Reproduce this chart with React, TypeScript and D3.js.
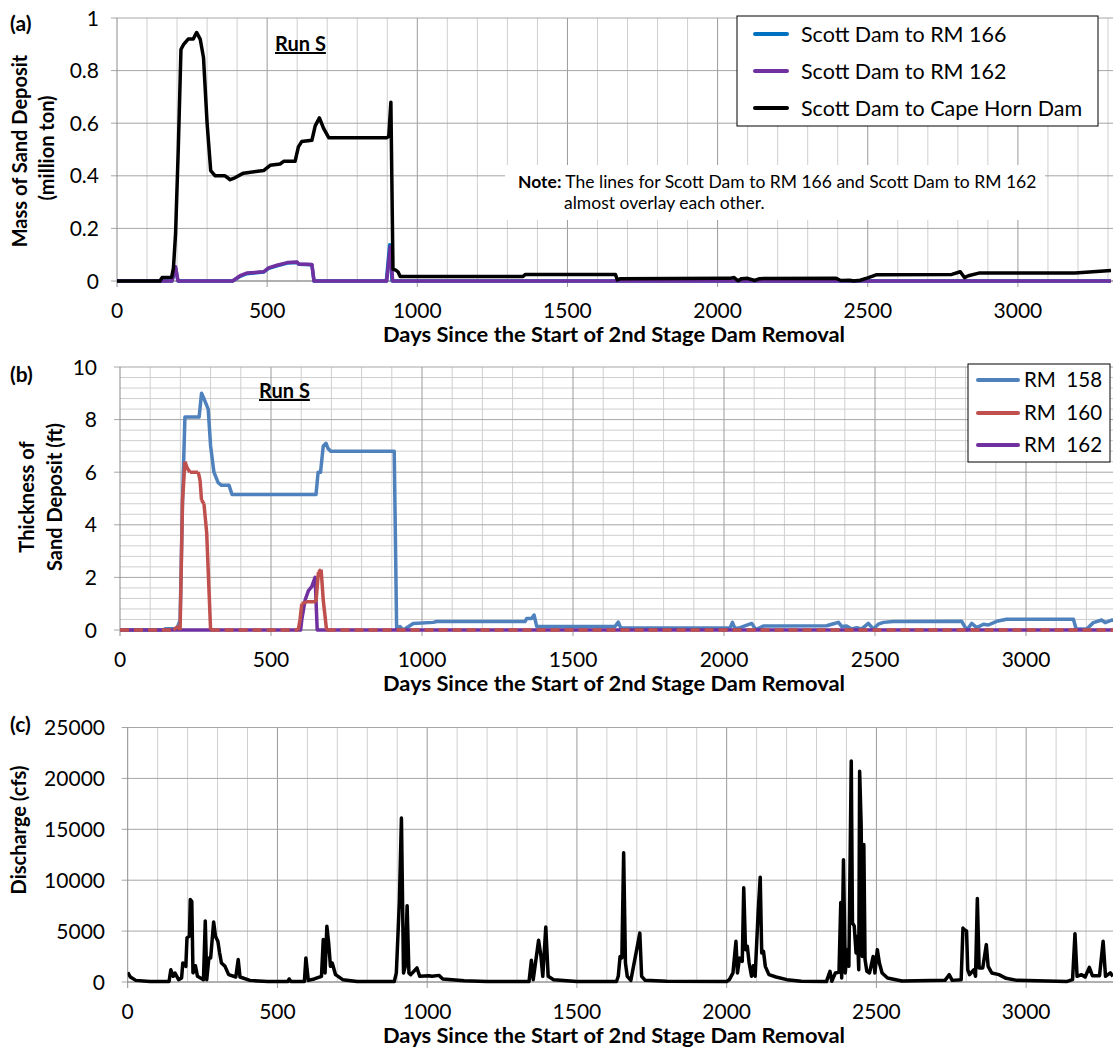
import React from 'react';
import * as d3 from 'd3';

type Pt = [number, number];

// ---- data ----
const dayTicks = [0, 500, 1000, 1500, 2000, 2500, 3000];
const massTicks = [0, 0.2, 0.4, 0.6, 0.8, 1];
const thickTicks = [0, 2, 4, 6, 8, 10];
const flowTicks = [0, 5000, 10000, 15000, 20000, 25000];

// (a) mass of sand deposit, million ton
const massRM166: Pt[] = [
  [0, 0], [183, 0], [195, 0.05], [203, 0], [385, 0], [410, 0.018], [432, 0.028], [488, 0.034],
  [505, 0.048], [533, 0.058], [567, 0.068], [600, 0.07], [605, 0.064], [649, 0.062], [656, 0],
  [897, 0], [908, 0.138], [916, 0], [3310, 0],
];
const massRM162: Pt[] = [
  [0, 0], [183, 0], [195, 0.054], [203, 0], [385, 0], [410, 0.02], [432, 0.03], [488, 0.035],
  [505, 0.05], [533, 0.06], [567, 0.07], [600, 0.072], [605, 0.065], [649, 0.063], [656, 0],
  [898, 0], [910, 0.13], [918, 0], [3310, 0],
];
const massCapeHorn: Pt[] = [
  [0, 0], [143, 0], [150, 0.013], [182, 0.014], [188, 0.05], [195, 0.18], [204, 0.5], [213, 0.88],
  [222, 0.9], [237, 0.92], [254, 0.92], [265, 0.945], [277, 0.92], [288, 0.85], [300, 0.6],
  [312, 0.42], [327, 0.4], [360, 0.4], [377, 0.385], [388, 0.39], [421, 0.41], [488, 0.42],
  [510, 0.44], [543, 0.445], [555, 0.455], [593, 0.455], [604, 0.51], [615, 0.53], [649, 0.535],
  [660, 0.59], [674, 0.62], [688, 0.58], [705, 0.545], [899, 0.545], [905, 0.55], [912, 0.68],
  [919, 0.045], [930, 0.04], [936, 0.034], [943, 0.017], [1352, 0.017], [1360, 0.025],
  [1660, 0.025], [1666, 0.004], [1677, 0.009], [2040, 0.01], [2055, 0.013], [2068, 0.001],
  [2080, 0.009], [2100, 0.01], [2124, 0.002], [2140, 0.009], [2395, 0.01], [2410, 0.002],
  [2440, 0.003], [2452, 0], [2475, 0.003], [2500, 0.012], [2530, 0.024], [2780, 0.025],
  [2808, 0.035], [2822, 0.013], [2835, 0.02], [2870, 0.03], [3190, 0.03], [3250, 0.035], [3310, 0.04],
];

// (b) thickness of sand deposit, ft
const thickRM158: Pt[] = [
  [0, 0], [143, 0], [150, 0.05], [185, 0.06], [190, 0.1], [199, 0.38], [207, 4.9], [215, 8.1],
  [262, 8.1], [270, 9.0], [278, 8.8], [292, 8.4], [300, 7.0], [311, 6.0], [325, 5.6], [336, 5.5],
  [361, 5.5], [371, 5.15], [649, 5.15], [656, 6.0], [664, 6.0], [673, 7.0], [682, 7.1], [689, 6.9],
  [697, 6.8], [908, 6.8], [916, 0.05], [927, 0.13], [938, 0], [971, 0.25], [1037, 0.29],
  [1049, 0.32], [1341, 0.32], [1347, 0.44], [1363, 0.44], [1371, 0.57], [1380, 0.13], [1639, 0.13],
  [1650, 0.3], [1658, 0.08], [2020, 0.08], [2028, 0.29], [2036, 0.06], [2053, 0.09], [2092, 0.25],
  [2103, 0.05], [2108, 0.03], [2130, 0.15], [2340, 0.16], [2357, 0.22], [2379, 0.29], [2390, 0.13],
  [2406, 0.15], [2423, 0.04], [2439, 0.09], [2456, 0.04], [2478, 0.25], [2494, 0.04], [2511, 0.22],
  [2528, 0.29], [2561, 0.32], [2787, 0.33], [2804, 0], [2820, 0.25], [2837, 0.09], [2859, 0.22],
  [2875, 0.19], [2903, 0.33], [2936, 0.41], [3157, 0.41], [3166, 0.04], [3201, 0.04], [3223, 0.28],
  [3251, 0.38], [3262, 0.28], [3284, 0.38], [3300, 0.36],
];
const thickRM160: Pt[] = [
  [0, 0], [177, 0], [193, 0.15], [199, 0], [207, 4.9], [215, 6.4], [223, 6.15], [232, 6.0],
  [259, 6.0], [265, 5.7], [270, 4.94], [278, 4.8], [287, 3.7], [300, 0], [590, 0], [596, 0.38],
  [602, 1.0], [618, 1.07], [649, 1.07], [657, 2.2], [666, 2.3], [673, 1.14], [684, 0], [3300, 0],
];
const thickRM162: Pt[] = [
  [0, 0], [598, 0], [602, 0.4], [613, 1.14], [624, 1.5], [635, 1.65], [646, 2.0], [653, 0], [3300, 0],
];

// (c) discharge, cfs
const discharge: Pt[] = [
  [0, 950], [9, 490], [27, 160], [74, 40], [138, 40], [144, 1200], [152, 560], [158, 880], [170, 230],
  [180, 400], [184, 1870], [194, 1540], [198, 4330], [206, 4500], [209, 8100], [214, 7900], [218, 900],
  [226, 1600], [233, 560], [253, 230], [259, 6000], [264, 230], [271, 2360], [277, 2360], [287, 5900],
  [293, 4500], [301, 4000], [307, 2850], [313, 1870], [325, 1540], [337, 720], [361, 490], [369, 2200],
  [375, 490], [408, 160], [468, 40], [535, 40], [539, 300], [545, 40], [590, 60], [595, 2360],
  [603, 160], [623, 300], [647, 560], [653, 4170], [659, 890], [665, 5480], [671, 3840], [677, 1540],
  [683, 1870], [694, 720], [718, 230], [766, 40], [890, 40], [897, 890], [907, 7800], [914, 16100],
  [921, 890], [927, 1540], [933, 7500], [939, 890], [945, 720], [966, 1380], [975, 560], [1005, 620],
  [1016, 560], [1040, 650], [1052, 300], [1124, 130], [1200, 60], [1340, 40], [1348, 2130],
  [1354, 230], [1372, 4100], [1380, 2500], [1386, 560], [1396, 5400], [1404, 560], [1422, 230],
  [1500, 60], [1632, 50], [1638, 560], [1644, 2500], [1650, 2360], [1656, 12700], [1662, 1870],
  [1668, 560], [1680, 160], [1710, 4800], [1716, 560], [1728, 160], [1800, 80], [2000, 50],
  [2009, 230], [2021, 890], [2031, 4000], [2036, 890], [2043, 2360], [2052, 2030], [2057, 9250],
  [2063, 3180], [2069, 3500], [2075, 1870], [2083, 560], [2089, 1600], [2095, 560], [2105, 6800],
  [2112, 10300], [2117, 2850], [2123, 3000], [2129, 1540], [2141, 720], [2165, 490], [2201, 230],
  [2249, 80], [2333, 40], [2345, 1050], [2351, 80], [2363, 890], [2375, 950], [2381, 7800],
  [2384, 400], [2390, 12000], [2396, 890], [2402, 3180], [2408, 1540], [2416, 21700], [2420, 5800],
  [2426, 5480], [2432, 2850], [2437, 4500], [2441, 1200], [2444, 20700], [2449, 15500], [2453, 2500],
  [2458, 13500], [2462, 2200], [2468, 1050], [2477, 890], [2489, 2500], [2495, 890], [2503, 3180],
  [2510, 1870], [2519, 890], [2537, 400], [2585, 100], [2729, 160], [2743, 720], [2753, 160],
  [2783, 230], [2789, 5300], [2795, 5100], [2801, 5000], [2805, 1200], [2811, 720], [2825, 1200],
  [2831, 560], [2837, 8200], [2843, 1380], [2855, 1380], [2867, 3670], [2873, 1540], [2885, 890],
  [2909, 720], [2933, 360], [2969, 160], [3137, 60], [3155, 230], [3163, 4750], [3170, 560],
  [3185, 720], [3197, 490], [3211, 1440], [3221, 620], [3245, 620], [3257, 4000], [3265, 560],
  [3281, 890], [3290, 560],
];

const FONT = "Lato, 'Open Sans', sans-serif";
const W = 1113;
const H = 1048;
const X_TITLE = 'Days Since the Start of 2nd Stage Dam Removal';

type Scale = d3.ScaleLinear<number, number>;

interface Series { data: Pt[]; color: string; width: number; zeroDash?: string }

function SeriesPath({ s, x, y }: { s: Series; x: Scale; y: Scale }) {
  const line = d3.line<Pt>().x(d => x(d[0])).y(d => y(d[1]));
  if (!s.zeroDash) {
    return <path d={line(s.data) ?? ''} fill="none" stroke={s.color} strokeWidth={s.width} strokeLinejoin="round" />;
  }
  // solid where the series is above zero, dashed along the zero line
  const pairs = d3.pairs(s.data);
  const zero = pairs.filter(([a, b]) => a[1] === 0 && b[1] === 0);
  const rest = pairs.filter(([a, b]) => !(a[1] === 0 && b[1] === 0));
  return (
    <g>
      <path d={zero.map(p => line(p)).join('')} fill="none" stroke={s.color} strokeWidth={s.width} strokeDasharray={s.zeroDash} />
      <path d={rest.map(p => line(p)).join('')} fill="none" stroke={s.color} strokeWidth={s.width} strokeLinejoin="round" />
    </g>
  );
}

function Panel({ id, x, y, yTicks, yMinor, yLabelRight, series, children }: {
  id: string; x: Scale; y: Scale; yTicks: number[]; yMinor?: number; yLabelRight: number;
  series: Series[]; children?: React.ReactNode;
}) {
  const x0 = x.range()[0];
  const [yb, yt] = y.range();
  const vLines = d3.range(100, 3400, 100);
  const [d0, d1] = y.domain();
  const hMinor = yMinor ? d3.range(d0 + yMinor, d1 + 1e-9, yMinor).filter(v => !yTicks.some(t => Math.abs(t - v) < 1e-6)) : [];
  return (
    <g>
      <defs>
        <clipPath id={id}>
          <rect x={x0} y={yt - 6} width={W - x0} height={yb - yt + 10} />
        </clipPath>
      </defs>
      {hMinor.map(v => (
        <line key={'hm' + v} x1={x0} x2={W} y1={y(v)} y2={y(v)} stroke="#cfcfcf" strokeWidth={1} />
      ))}
      {vLines.filter(v => v % 500 !== 0).map(v => (
        <line key={'vm' + v} x1={x(v)} x2={x(v)} y1={yt} y2={yb} stroke="#cfcfcf" strokeWidth={1} />
      ))}
      {vLines.filter(v => v % 500 === 0).map(v => (
        <line key={'vM' + v} x1={x(v)} x2={x(v)} y1={yt} y2={yb + 6} stroke="#9a9a9a" strokeWidth={1} />
      ))}
      {yTicks.map(t => (
        <line key={'hM' + t} x1={x0 - 6} x2={W} y1={y(t)} y2={y(t)} stroke="#a6a6a6" strokeWidth={1} />
      ))}
      <line x1={x0} x2={x0} y1={yt} y2={yb + 6} stroke="#8c8c8c" strokeWidth={1} />
      <line x1={x0} x2={W} y1={yb} y2={yb} stroke="#8c8c8c" strokeWidth={1} />
      {yTicks.map(t => (
        <text key={'yl' + t} x={yLabelRight} y={y(t)} dy="0.36em" textAnchor="end" fontSize={21} fontFamily={FONT} fill="#000">{t}</text>
      ))}
      {dayTicks.map(t => (
        <text key={'xl' + t} x={x(t)} y={yb + 37} textAnchor="middle" fontSize={21} fontFamily={FONT} fill="#000">{t}</text>
      ))}
      <text x={614} y={yb + 61} textAnchor="middle" fontSize={21} fontWeight="bold" fontFamily={FONT} fill="#000"
        textLength={462} lengthAdjust="spacingAndGlyphs">{X_TITLE}</text>
      <g clipPath={`url(#${id})`}>
        {series.map((s, i) => <SeriesPath key={i} s={s} x={x} y={y} />)}
      </g>
      {children}
    </g>
  );
}

function YTitle({ cx, cy, text }: { cx: number; cy: number; text: string }) {
  return (
    <text transform={`translate(${cx},${cy}) rotate(-90)`} dy="0.36em" textAnchor="middle" fontSize={20} fontWeight="bold" fontFamily={FONT} fill="#000">{text}</text>
  );
}

function Legend({ x, y, w, h, rows, rowY, lineX, textX, fontSize }: {
  x: number; y: number; w: number; h: number; rows: { label: string; color: string }[];
  rowY: number[]; lineX: [number, number]; textX: number; fontSize: number;
}) {
  return (
    <g>
      <rect x={x} y={y} width={w} height={h} fill="#fff" stroke="#000" strokeWidth={1} />
      {rows.map((r, i) => (
        <g key={r.label}>
          <line x1={lineX[0]} x2={lineX[1]} y1={rowY[i]} y2={rowY[i]} stroke={r.color} strokeWidth={4} strokeLinecap="round" />
          <text x={textX} y={rowY[i]} dy="0.36em" fontSize={fontSize} fontFamily={FONT} fill="#000" style={{ whiteSpace: 'pre' }}>{r.label}</text>
        </g>
      ))}
    </g>
  );
}

export default function App() {
  const xA = d3.scaleLinear().domain([0, 3300]).range([117, 1108]);
  const yA = d3.scaleLinear().domain([0, 1]).range([281, 18]);
  const xB = d3.scaleLinear().domain([0, 3300]).range([120, 1116.6]);
  const yB = d3.scaleLinear().domain([0, 10]).range([630, 367]);
  const xC = d3.scaleLinear().domain([0, 3300]).range([127.7, 1116]);
  const yC = d3.scaleLinear().domain([0, 25000]).range([982, 727.5]);

  return (
    <svg width={W} height={H} style={{ position: 'absolute', left: 0, top: 0, background: '#fff' }}>
      <rect width={W} height={H} fill="#fff" />

      {/* (a) */}
      <Panel id="clipA" x={xA} y={yA} yTicks={massTicks} yLabelRight={99}
        series={[
          { data: massRM166, color: '#0070C0', width: 3.5 },
          { data: massRM162, color: '#7030A0', width: 3.5 },
          { data: massCapeHorn, color: '#000000', width: 3.5 },
        ]}>
        <rect x={505} y={165} width={540} height={55} fill="#fff" />
        <text x={518} y={188} fontSize={17.5} fontFamily={FONT} fill="#000">
          <tspan fontWeight="bold">Note:</tspan> The lines for Scott Dam to RM 166 and Scott Dam to RM 162
        </text>
        <text x={564} y={209} fontSize={17.5} fontFamily={FONT} fill="#000">almost overlay each other.</text>
        <text x={275} y={51} fontSize={20} fontWeight="bold" fontFamily={FONT} textDecoration="underline" fill="#000">Run S</text>
        <Legend x={737} y={16} w={361} h={110} rowY={[34, 71, 108]} lineX={[755, 787]} textX={801} fontSize={21.5}
          rows={[
            { label: 'Scott Dam to RM 166', color: '#0070C0' },
            { label: 'Scott Dam to RM 162', color: '#7030A0' },
            { label: 'Scott Dam to Cape Horn Dam', color: '#000000' },
          ]} />
      </Panel>
      <text x={10} y={31} fontSize={21} fontWeight="bold" fontFamily={FONT}>(a)</text>
      <YTitle cx={20} cy={151} text="Mass of Sand Deposit" />
      <YTitle cx={47} cy={148} text="(million ton)" />

      {/* (b) */}
      <Panel id="clipB" x={xB} y={yB} yTicks={thickTicks} yMinor={0.4} yLabelRight={97}
        series={[
          { data: thickRM158, color: '#4F81BD', width: 3.5 },
          { data: thickRM162, color: '#7030A0', width: 3.5 },
          { data: thickRM160, color: '#C0504D', width: 3.5, zeroDash: '9 5' },
        ]}>
        <text x={259} y={398} fontSize={20} fontWeight="bold" fontFamily={FONT} textDecoration="underline" fill="#000">Run S</text>
        <Legend x={968} y={364} w={142} h={98} rowY={[380, 413, 445]} lineX={[978, 1018]} textX={1024} fontSize={20.5}
          rows={[
            { label: 'RM  158', color: '#4F81BD' },
            { label: 'RM  160', color: '#C0504D' },
            { label: 'RM  162', color: '#7030A0' },
          ]} />
      </Panel>
      <text x={10} y={382} fontSize={21} fontWeight="bold" fontFamily={FONT}>(b)</text>
      <YTitle cx={27} cy={497} text="Thickness of" />
      <YTitle cx={55} cy={497} text="Sand Deposit (ft)" />

      {/* (c) */}
      <Panel id="clipC" x={xC} y={yC} yTicks={flowTicks} yLabelRight={105}
        series={[{ data: discharge, color: '#000000', width: 3.5 }]} />
      <text x={10} y={732} fontSize={21} fontWeight="bold" fontFamily={FONT}>(c)</text>
      <YTitle cx={19} cy={830} text="Discharge (cfs)" />
    </svg>
  );
}
